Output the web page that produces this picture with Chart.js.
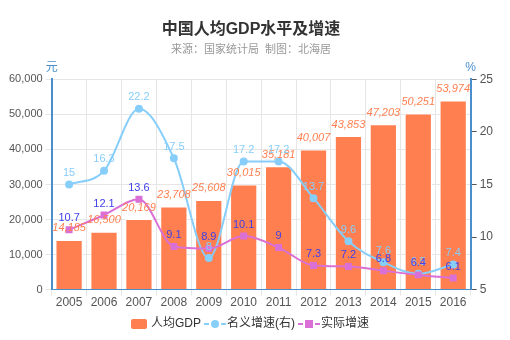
<!DOCTYPE html>
<html>
<head>
<meta charset="utf-8">
<script src="https://cdn.jsdelivr.net/npm/chart.js@4.4.1/dist/chart.umd.min.js"></script>
<style>
	html, body { margin: 0; padding: 0; background: #fff; }
	#wrap { width: 510px; height: 340px; }
</style>
</head>
<body>
<div id="wrap"><canvas id="gdpChart" width="510" height="340"></canvas></div>
<script>
var years = ['2005', '2006', '2007', '2008', '2009', '2010', '2011', '2012', '2013', '2014', '2015', '2016'];
var gdpPerCapita = [14185, 16500, 20169, 23708, 25608, 30015, 35181, 40007, 43853, 47203, 50251, 53974];
var nominalGrowth = [15, 16.3, 22.2, 17.5, 8, 17.2, 17.2, 13.7, 9.6, 7.6, 6.5, 7.4];
var realGrowth = [10.7, 12.1, 13.6, 9.1, 8.9, 10.1, 9, 7.3, 7.2, 6.8, 6.4, 6.1];
var leftTicks = [0, 10000, 20000, 30000, 40000, 50000, 60000];
var rightTicks = [5, 10, 15, 20, 25];

var FONT = "'Liberation Sans', 'Noto Sans CJK SC', sans-serif";
var barColor = '#FF7F50';
var nominalColor = '#87CEFA';
var realColor = '#DA70D6';
var axisBlue = '#4A8FCB';

// legend symbols
function lineIcon(color, square){
	var c = document.createElement('canvas');
	c.width = 22; c.height = 10;
	var g = c.getContext('2d');
	g.strokeStyle = color;
	g.lineWidth = 2;
	g.beginPath(); g.moveTo(0, 5); g.lineTo(5, 5); g.moveTo(17, 5); g.lineTo(22, 5); g.stroke();
	g.fillStyle = color;
	if(square){
		g.fillRect(7, 1, 8, 8);
	} else {
		g.beginPath(); g.arc(11, 5, 4, 0, Math.PI * 2); g.fill();
	}
	return c;
}
function barIcon(){
	var c = document.createElement('canvas');
	c.width = 16; c.height = 10;
	var g = c.getContext('2d');
	g.fillStyle = barColor;
	g.beginPath();
	g.moveTo(2, 0); g.lineTo(14, 0); g.quadraticCurveTo(16, 0, 16, 2); g.lineTo(16, 8);
	g.quadraticCurveTo(16, 10, 14, 10); g.lineTo(2, 10); g.quadraticCurveTo(0, 10, 0, 8);
	g.lineTo(0, 2); g.quadraticCurveTo(0, 0, 2, 0); g.fill();
	return c;
}
var icons = [barIcon(), lineIcon(nominalColor, false), lineIcon(realColor, true)];

// value labels above bars and points
var valueLabels = {
	id: 'valueLabels',
	afterDatasetsDraw: function(chart){
		var ctx = chart.ctx;
		ctx.save();
		ctx.textAlign = 'center';
		ctx.textBaseline = 'bottom';
		chart.data.datasets.forEach(function(ds, i){
			var meta = chart.getDatasetMeta(i);
			meta.data.forEach(function(el, j){
				var v = ds.data[j];
				var txt = i === 0 ? v.toLocaleString('en-US') : String(v);
				if(i === 0){
					ctx.font = 'italic 11px ' + FONT;
					ctx.fillStyle = barColor;
				} else {
					ctx.font = '11px ' + FONT;
					ctx.fillStyle = i === 1 ? nominalColor : '#4040E8';
				}
				ctx.fillText(txt, el.x, el.y - 6);
			});
		});
		ctx.restore();
	}
};

// unit titles on top of the y axes
var axisUnits = {
	id: 'axisUnits',
	afterDraw: function(chart){
		var ctx = chart.ctx;
		var area = chart.chartArea;
		ctx.save();
		ctx.fillStyle = axisBlue;
		ctx.font = '12px ' + FONT;
		ctx.textAlign = 'center';
		ctx.textBaseline = 'bottom';
		ctx.fillText('元', area.left, area.top - 6);
		ctx.fillText('%', area.right, area.top - 6);
		ctx.restore();
	}
};

var chart = new Chart(document.getElementById('gdpChart').getContext('2d'), {
	type: 'bar',
	data: {
		labels: years,
		datasets: [{
			type: 'bar',
			label: '人均GDP',
			data: gdpPerCapita,
			backgroundColor: barColor,
			borderColor: '#ffffff',
			borderWidth: 1,
			barPercentage: 0.78,
			categoryPercentage: 1,
			yAxisID: 'y',
			order: 3
		}, {
			type: 'line',
			label: '名义增速(右)',
			data: nominalGrowth,
			borderColor: nominalColor,
			backgroundColor: nominalColor,
			borderWidth: 2,
			pointRadius: 3,
			pointStyle: 'circle',
			tension: 0.4,
			cubicInterpolationMode: 'monotone',
			yAxisID: 'y1',
			order: 2
		}, {
			type: 'line',
			label: '实际增速',
			data: realGrowth,
			borderColor: realColor,
			backgroundColor: realColor,
			borderWidth: 2,
			pointRadius: 3.5,
			pointStyle: 'rect',
			tension: 0.4,
			cubicInterpolationMode: 'monotone',
			yAxisID: 'y1',
			order: 1
		}]
	},
	options: {
		responsive: false,
		animation: false,
		layout: { padding: { left: 6, right: 14, top: 0, bottom: 0 } },
		plugins: {
			title: {
				display: true,
				text: '中国人均GDP水平及增速',
				color: '#333',
				font: { family: FONT, size: 16, weight: 'bold' },
				padding: { top: 20, bottom: 4 }
			},
			subtitle: {
				display: true,
				text: '来源：国家统计局  制图：北海居',
				color: '#999',
				font: { family: FONT, size: 11 },
				padding: { bottom: 23 }
			},
			legend: {
				position: 'bottom',
				labels: {
					usePointStyle: true,
					color: '#333',
					font: { family: FONT, size: 12 },
					padding: 8,
					boxHeight: 10,
					sort: function(a, b){ return a.datasetIndex - b.datasetIndex; },
					generateLabels: function(chart){
						var items = Chart.defaults.plugins.legend.labels.generateLabels(chart);
						items.forEach(function(it){ it.pointStyle = icons[it.datasetIndex]; });
						return items;
					}
				}
			},
			tooltip: { enabled: false }
		},
		scales: {
			x: {
				grid: { color: '#e6e6e6', offset: true, tickLength: 6 },
				border: { color: axisBlue, width: 1 },
				ticks: { color: '#555', font: { family: FONT, size: 12 }, maxRotation: 0, autoSkip: false, padding: 0 }
			},
			y: {
				position: 'left',
				min: 0,
				max: 60000,
				afterBuildTicks: function(axis){ axis.ticks = leftTicks.map(function(v){ return { value: v }; }); },
				grid: { color: '#e6e6e6', tickLength: 6 },
				border: { color: axisBlue, width: 2 },
				ticks: {
					color: '#555',
					font: { family: FONT, size: 11 },
					padding: 3,
					callback: function(v){ return Number(v).toLocaleString('en-US'); }
				}
			},
			y1: {
				position: 'right',
				min: 5,
				max: 25,
				afterBuildTicks: function(axis){ axis.ticks = rightTicks.map(function(v){ return { value: v }; }); },
				grid: { drawOnChartArea: false, color: '#555', tickLength: 6 },
				border: { color: axisBlue, width: 2 },
				ticks: { color: '#555', font: { family: FONT, size: 12 }, padding: 3 }
			}
		}
	},
	plugins: [valueLabels, axisUnits]
});
</script>
</body>
</html>
